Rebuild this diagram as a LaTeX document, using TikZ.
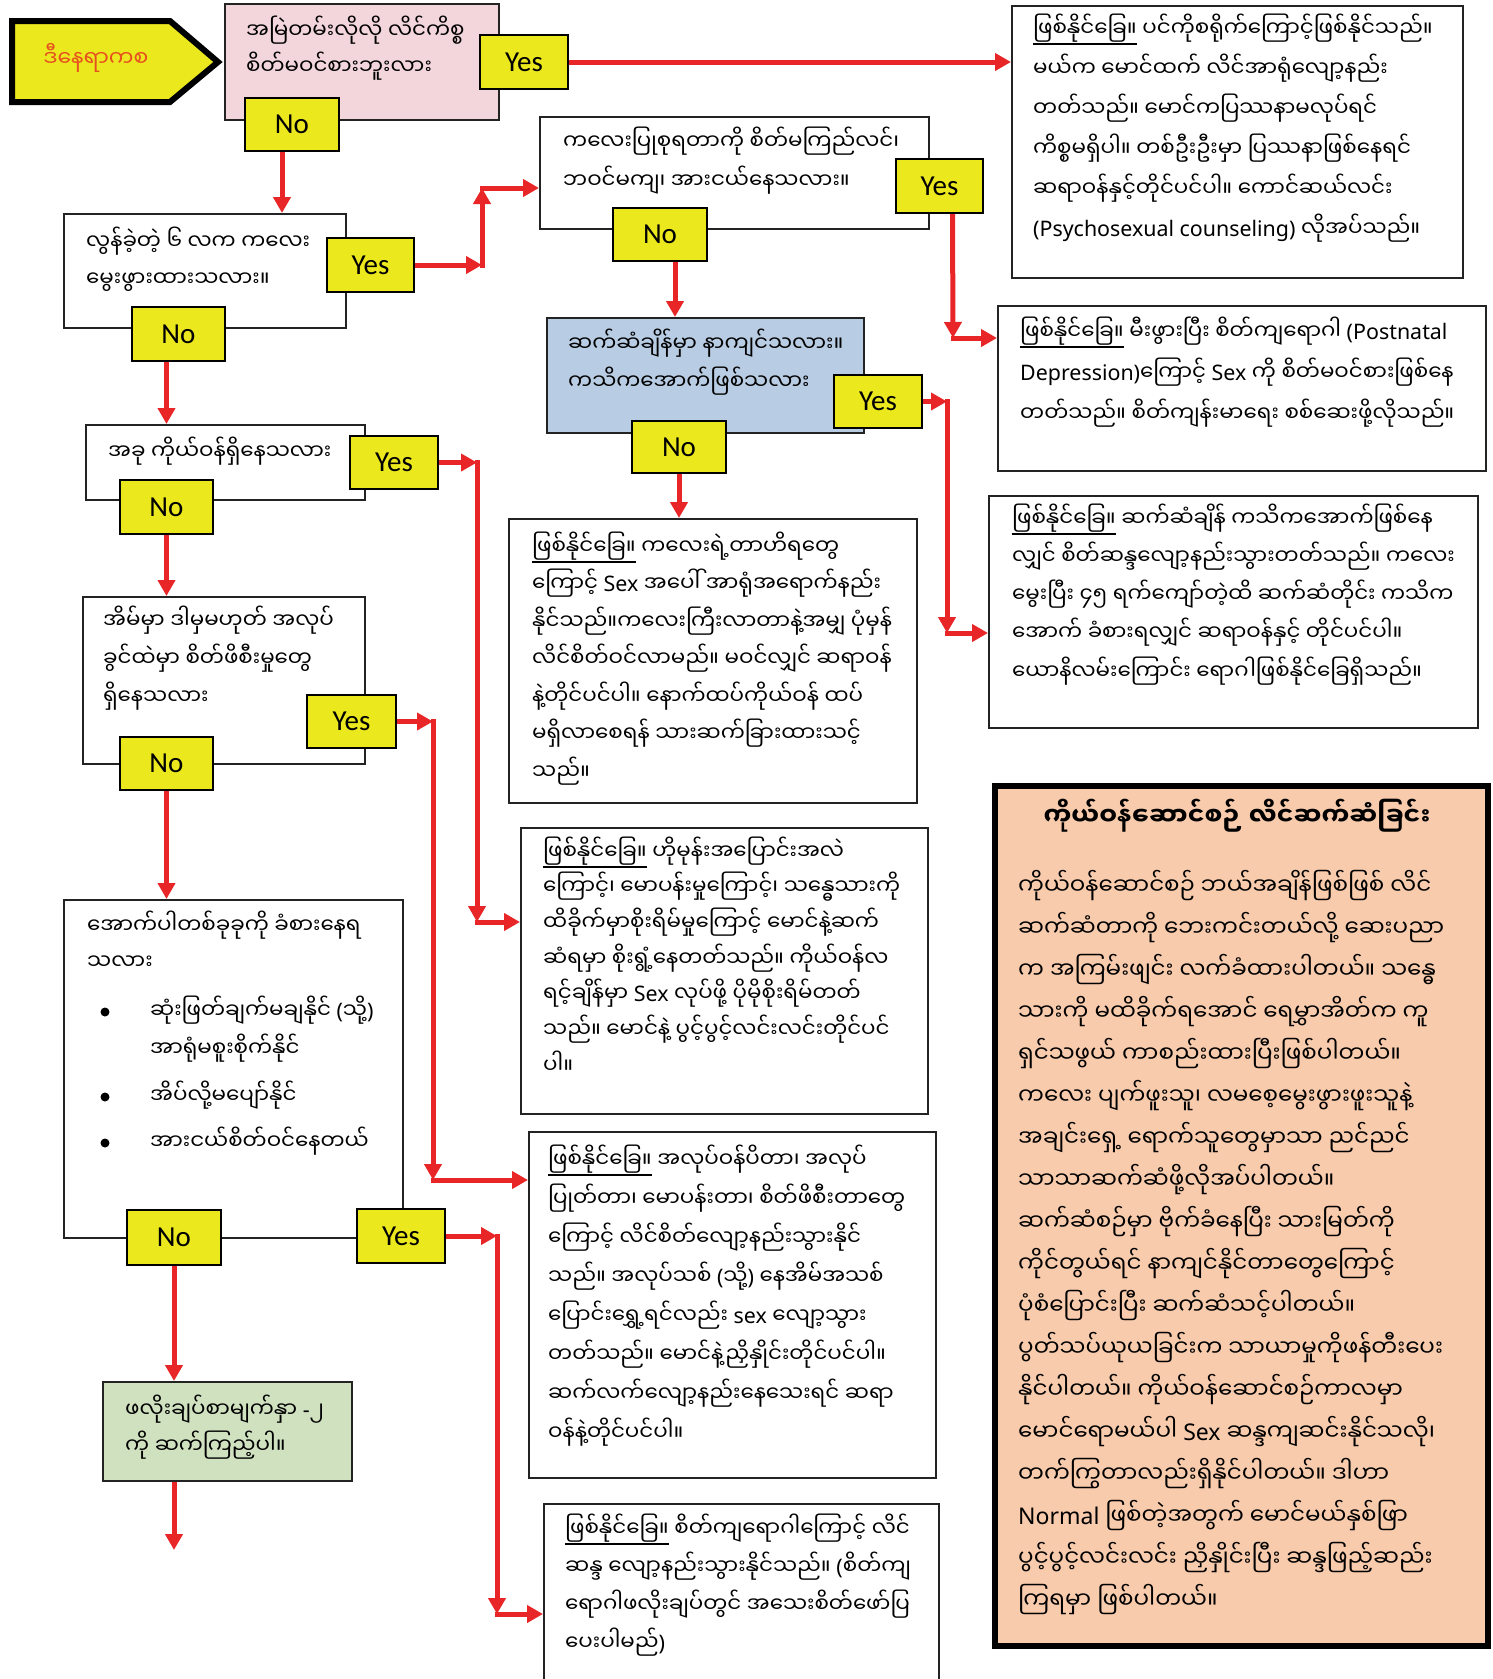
\documentclass[tikz,border=0pt]{standalone}
\usepackage{fontspec}
\usetikzlibrary{arrows.meta}
\setmainfont{Noto Sans}
\newfontfamily\myfont[Script=Myanmar]{Noto Sans Myanmar UI}
\newfontfamily\latf{Noto Sans}
\newfontfamily\ynfont{Carlito}
\newcommand\lt[1]{{\latf #1}}
\newcommand\ulx[1]{\vtop{\hbox{#1}\kern1.5pt\hrule height 1.6pt}}
\newcommand\ml[2]{\vtop{\baselineskip=#1\lineskiplimit=-200pt\lineskip=0pt\let\\\cr\halign{##\hfil\cr#2\cr}}}
\pgfdeclarelayer{bg}\pgfsetlayers{bg,main}
\definecolor{yel}{RGB}{236,232,30}
\definecolor{pinkc}{RGB}{242,214,219}
\definecolor{bluec}{RGB}{184,204,228}
\definecolor{greenc}{RGB}{208,225,192}
\definecolor{peach}{RGB}{248,203,172}
\definecolor{arr}{RGB}{232,38,40}
\definecolor{startc}{RGB}{230,80,30}
\definecolor{edge}{RGB}{35,35,35}
\begin{document}
\begin{tikzpicture}[x=1pt,y=-1pt,
  box/.style={draw=edge, line width=2pt, anchor=north west, inner sep=0pt},
  yn/.style={draw=black, line width=2pt, fill=yel, inner sep=0pt, font=\ynfont\fontsize{29pt}{30pt}\selectfont},
  tx/.style={anchor=base west, inner sep=0pt, font=\myfont\fontsize{21.4pt}{24pt}\selectfont},
  px/.style={anchor=base west, inner sep=0pt, font=\myfont\fontsize{23pt}{26pt}\selectfont},
  rarrow/.style={draw=arr, line width=5pt, line cap=rect, -{Triangle[length=16pt,width=17pt]}},
  dot/.style={circle, fill=black, inner sep=0pt, minimum size=9pt}]
\useasboundingbox (0,0) rectangle (1492,1679);
\begin{pgfonlayer}{bg}
\fill[white] (0,0) rectangle (1492,1679);
\end{pgfonlayer}

% start shape
\draw[line width=6pt, fill=yel, line join=miter] (12,21) -- (170,21) -- (218,62) -- (170,102) -- (12,102) -- cycle;
\node[inner sep=0pt, text=startc, font=\myfont\fontsize{22pt}{24pt}\selectfont] (startt) at (96,58) {ဒီနေရာကစ};

% main boxes
\node[box, fill=pinkc, minimum width=274pt, minimum height=116pt] (pink) at (224,3) {};
\node[box, minimum width=282pt, minimum height=114pt] (box2) at (63,213) {};
\node[box, minimum width=389pt, minimum height=112pt] (box3) at (539,116) {};
\node[box, fill=bluec, minimum width=317pt, minimum height=115pt] (blue) at (546,317) {};
\node[box, minimum width=451pt, minimum height=272pt] (tr) at (1011,5) {};
\node[box, minimum width=488pt, minimum height=165pt] (pn) at (997,305) {};
\node[box, minimum width=489pt, minimum height=232pt] (d45) at (988,495) {};
\node[box, minimum width=279pt, minimum height=75pt] (box4) at (85,424) {};
\node[box, minimum width=282pt, minimum height=167pt] (box6) at (82,596) {};
\node[box, minimum width=408pt, minimum height=284pt] (child) at (508,518) {};
\node[box, minimum width=407pt, minimum height=286pt] (horm) at (520,827) {};
\node[box, minimum width=339pt, minimum height=338pt] (bul) at (63,899) {};
\node[box, fill=greenc, minimum width=249pt, minimum height=99pt] (green) at (102,1381) {};
\node[box, minimum width=407pt, minimum height=346pt] (work) at (528,1131) {};
\node[box, minimum width=395pt, minimum height=200pt] (last) at (543,1503) {};
\node[box, draw=black, line width=6pt, fill=peach, minimum width=493pt, minimum height=860pt] (peachb) at (992,783) {};

% texts
\node[tx] (tpink) at (246,38) {\ml{36pt}{အမြဲတမ်းလိုလို လိင်ကိစ္စ\\စိတ်မဝင်စားဘူးလား}};
\node[tx] (tbox2) at (86,249) {\ml{37pt}{လွန်ခဲ့တဲ့ ၆ လက ကလေး\\မွေးဖွားထားသလား။}};
\node[tx] (tbox3) at (563,149) {\ml{39pt}{ကလေးပြုစုရတာကို  စိတ်မကြည်လင်၊\\ဘဝင်မကျ၊ အားငယ်နေသလား။}};
\node[tx] (tblue) at (568,351) {\ml{38pt}{ဆက်ဆံချိန်မှာ နာကျင်သလား။\\ကသိကအောက်ဖြစ်သလား}};
\node[tx] (ttr) at (1033,36) {\ml{40pt}{\ulx{ဖြစ်နိုင်ခြေ။} ပင်ကိုစရိုက်ကြောင့်ဖြစ်နိုင်သည်။\\
မယ်က မောင်ထက် လိင်အာရုံလျော့နည်း\\
တတ်သည်။ မောင်ကပြဿနာမလုပ်ရင်\\
ကိစ္စမရှိပါ။ တစ်ဦးဦးမှာ ပြဿနာဖြစ်နေရင်\\
ဆရာဝန်နှင့်တိုင်ပင်ပါ။ ကောင်ဆယ်လင်း\\
\lt{(Psychosexual counseling)} လိုအပ်သည်။}};
\node[tx] (tpn) at (1020,339) {\ml{41pt}{\ulx{ဖြစ်နိုင်ခြေ။} မီးဖွားပြီး စိတ်ကျရောဂါ \lt{(Postnatal}\\
\lt{Depression)}ကြောင့် \lt{Sex} ကို စိတ်မဝင်စားဖြစ်နေ\\
တတ်သည်။ စိတ်ကျန်းမာရေး စစ်ဆေးဖို့လိုသည်။}};
\node[tx] (td45) at (1012,526) {\ml{38.3pt}{\ulx{ဖြစ်နိုင်ခြေ။} ဆက်ဆံချိန် ကသိကအောက်ဖြစ်နေ\\
လျှင် စိတ်ဆန္ဒလျော့နည်းသွားတတ်သည်။ ကလေး\\
မွေးပြီး ၄၅ ရက်ကျော်တဲ့ထိ ဆက်ဆံတိုင်း ကသိက\\
အောက် ခံစားရလျှင် ဆရာဝန်နှင့် တိုင်ပင်ပါ။\\
ယောနိလမ်းကြောင်း ရောဂါဖြစ်နိုင်ခြေရှိသည်။}};
\node[tx] (tbox4) at (108,459) {အခု ကိုယ်ဝန်ရှိနေသလား};
\node[tx] (tbox6) at (103,628) {\ml{38pt}{အိမ်မှာ ဒါမှမဟုတ် အလုပ်\\ခွင်ထဲမှာ စိတ်ဖိစီးမှုတွေ\\ရှိနေသလား}};
\node[tx] (tchild) at (532,554) {\ml{37.5pt}{\ulx{ဖြစ်နိုင်ခြေ။} ကလေးရဲ့တာဟိရတွေ\\
ကြောင့် \lt{Sex} အပေါ် အာရုံအရောက်နည်း\\
နိုင်သည်။ကလေးကြီးလာတာနဲ့အမျှ ပုံမှန်\\
လိင်စိတ်ဝင်လာမည်။ မဝင်လျှင် ဆရာဝန်\\
နဲ့တိုင်ပင်ပါ။  နောက်ထပ်ကိုယ်ဝန် ထပ်\\
မရှိလာစေရန် သားဆက်ခြားထားသင့်\\
သည်။}};
\node[tx] (thorm) at (543,859) {\ml{35.7pt}{\ulx{ဖြစ်နိုင်ခြေ။} ဟိုမုန်းအပြောင်းအလဲ\\
ကြောင့်၊ မောပန်းမှုကြောင့်၊ သန္ဓေသားကို\\
ထိခိုက်မှာစိုးရိမ်မှုကြောင့် မောင်နဲ့ဆက်\\
ဆံရမှာ စိုးရွံ့နေတတ်သည်။ ကိုယ်ဝန်လ\\
ရင့်ချိန်မှာ \lt{Sex} လုပ်ဖို့ ပိုမိုစိုးရိမ်တတ်\\
သည်။ မောင်နဲ့ ပွင့်ပွင့်လင်းလင်းတိုင်ပင်\\
ပါ။}};
\node[tx] (tbul) at (87,933) {\ml{36pt}{အောက်ပါတစ်ခုခုကို ခံစားနေရ\\သလား}};
\node[dot] (d1) at (105,1012) {};
\node[dot] (d2) at (105,1097) {};
\node[dot] (d3) at (105,1143) {};
\node[tx] (tb1) at (150,1018) {\ml{38pt}{ဆုံးဖြတ်ချက်မချနိုင် \lt{(}သို့\lt{)}\\အာရုံမစူးစိုက်နိုင်}};
\node[tx] (tb2) at (150,1103) {အိပ်လို့မပျော်နိုင်};
\node[tx] (tb3) at (150,1149) {အားငယ်စိတ်ဝင်နေတယ်};
\node[tx] (tgreen) at (125,1417) {\ml{36pt}{ဖလိုးချပ်စာမျက်နှာ \lt{-}၂\\ကို   ဆက်ကြည့်ပါ။}};
\node[tx] (twork) at (548,1167) {\ml{39pt}{\ulx{ဖြစ်နိုင်ခြေ။} အလုပ်ဝန်ပိတာ၊ အလုပ်\\
ပြုတ်တာ၊ မောပန်းတာ၊ စိတ်ဖိစီးတာတွေ\\
ကြောင့် လိင်စိတ်လျော့နည်းသွားနိုင်\\
သည်။ အလုပ်သစ် \lt{(}သို့\lt{)} နေအိမ်အသစ်\\
ပြောင်းရွှေ့ရင်လည်း \lt{sex} လျော့သွား\\
တတ်သည်။ မောင်နဲ့ညှိနှိုင်းတိုင်ပင်ပါ။\\
ဆက်လက်လျော့နည်းနေသေးရင် ဆရာ\\
ဝန်နဲ့တိုင်ပင်ပါ။}};
\node[tx] (tlast) at (565,1536) {\ml{38pt}{\ulx{ဖြစ်နိုင်ခြေ။} စိတ်ကျရောဂါကြောင့် လိင်\\
ဆန္ဒ လျော့နည်းသွားနိုင်သည်။ \lt{(}စိတ်ကျ\\
ရောဂါဖလိုးချပ်တွင် အသေးစိတ်ဖော်ပြ\\
ပေးပါမည်\lt{)}}};
\node[tx, anchor=base, font=\myfont\bfseries\fontsize{25pt}{28pt}\selectfont] (ttitle) at (1237,825) {ကိုယ်ဝန်ဆောင်စဉ် လိင်ဆက်ဆံခြင်း};
\node[px] (tpeach) at (1018,894) {\ml{42pt}{ကိုယ်ဝန်ဆောင်စဉ် ဘယ်အချိန်ဖြစ်ဖြစ်  လိင်\\
ဆက်ဆံတာကို ဘေးကင်းတယ်လို့ ဆေးပညာ\\
က အကြမ်းဖျင်း လက်ခံထားပါတယ်။ သန္ဓေ\\
သားကို မထိခိုက်ရအောင် ရေမွှာအိတ်က ကူ\\
ရှင်သဖွယ် ကာစည်းထားပြီးဖြစ်ပါတယ်။\\
ကလေး ပျက်ဖူးသူ၊ လမစေ့မွေးဖွားဖူးသူနဲ့\\
အချင်းရှေ့ ရောက်သူတွေမှာသာ ညင်ညင်\\
သာသာဆက်ဆံဖို့လိုအပ်ပါတယ်။\\
ဆက်ဆံစဉ်မှာ ဗိုက်ခံနေပြီး သားမြတ်ကို\\
ကိုင်တွယ်ရင် နာကျင်နိုင်တာတွေကြောင့်\\
ပုံစံပြောင်းပြီး ဆက်ဆံသင့်ပါတယ်။\\
ပွတ်သပ်ယုယခြင်းက သာယာမှုကိုဖန်တီးပေး\\
နိုင်ပါတယ်။ ကိုယ်ဝန်ဆောင်စဉ်ကာလမှာ\\
မောင်ရောမယ်ပါ \lt{Sex} ဆန္ဒကျဆင်းနိုင်သလို၊\\
တက်ကြွတာလည်းရှိနိုင်ပါတယ်။ ဒါဟာ\\
\lt{Normal} ဖြစ်တဲ့အတွက် မောင်မယ်နှစ်ဖြာ\\
ပွင့်ပွင့်လင်းလင်း ညှိနှိုင်းပြီး ဆန္ဒဖြည့်ဆည်း\\
ကြရမှာ ဖြစ်ပါတယ်။}};

% yes / no boxes
\node[yn, minimum width=88pt, minimum height=54pt] (yes1) at (524,62) {Yes};
\node[yn, minimum width=94pt, minimum height=53pt] (no1) at (292,124.5) {No};
\node[yn, minimum width=87pt, minimum height=54pt] (yes2) at (370.5,265) {Yes};
\node[yn, minimum width=93pt, minimum height=54pt] (no2) at (178.5,334) {No};
\node[yn, minimum width=87pt, minimum height=54pt] (yes3) at (939.5,186) {Yes};
\node[yn, minimum width=94pt, minimum height=53pt] (no3) at (660,234.5) {No};
\node[yn, minimum width=88pt, minimum height=53pt] (yes4) at (878,401.5) {Yes};
\node[yn, minimum width=94pt, minimum height=52pt] (no4) at (679,447) {No};
\node[yn, minimum width=88pt, minimum height=53pt] (yes5) at (394,462.5) {Yes};
\node[yn, minimum width=93pt, minimum height=54pt] (no5) at (166.5,507) {No};
\node[yn, minimum width=89pt, minimum height=53pt] (yes6) at (351.5,721.5) {Yes};
\node[yn, minimum width=93pt, minimum height=53pt] (no6) at (166.5,763.5) {No};
\node[yn, minimum width=88pt, minimum height=54pt] (yes7) at (401,1236) {Yes};
\node[yn, minimum width=94pt, minimum height=55pt] (no7) at (174,1237.5) {No};

% connector helper coordinates
\coordinate (a1s) at ([xshift=-10pt]no1.south);
\coordinate (a4s) at ([xshift=-12pt]no2.south);
\coordinate (a5s) at ([xshift=15pt]no3.south);
\coordinate (a6s) at ([xshift=13pt]yes3.south);
\coordinate (c3a) at (482,265);
\coordinate (c3b) at (482,188);
\coordinate (c6) at (953,338);
\coordinate (c7a) at (947,401.5);
\coordinate (c7b) at (947,633);
\coordinate (c10a) at (477,462.5);
\coordinate (c10b) at (477,922);
\coordinate (c12a) at (433,721.5);
\coordinate (c12b) at (433,1180);
\coordinate (c15a) at (497,1236);
\coordinate (c15b) at (497,1614);
\coordinate (endc) at (174,1550);

\begin{pgfonlayer}{bg}
\draw[rarrow] (a1s) -- (a1s |- box2.north);
\draw[rarrow] (yes1.east) -- (yes1.east -| tr.west);
\draw[rarrow] (yes2.east) -- (c3a);
\draw[rarrow] (c3a) -- (c3b);
\draw[rarrow] (c3b) -- (c3b -| box3.west);
\draw[rarrow] (a4s) -- (a4s |- box4.north);
\draw[rarrow] (a5s) -- (a5s |- blue.north);
\draw[rarrow] (a6s) -- (c6);
\draw[rarrow] (c6) -- (c6 -| pn.west);
\draw[rarrow] (yes4.east) -- (c7a);
\draw[rarrow] (c7a) -- (c7b);
\draw[rarrow] (c7b) -- (c7b -| d45.west);
\draw[rarrow] (no4.south) -- (no4.south |- child.north);
\draw[rarrow] (no5.south) -- (no5.south |- box6.north);
\draw[rarrow] (yes5.east) -- (c10a);
\draw[rarrow] (c10a) -- (c10b);
\draw[rarrow] (c10b) -- (c10b -| horm.west);
\draw[rarrow] (no6.south) -- (no6.south |- bul.north);
\draw[rarrow] (yes6.east) -- (c12a);
\draw[rarrow] (c12a) -- (c12b);
\draw[rarrow] (c12b) -- (c12b -| work.west);
\draw[rarrow] (no7.south) -- (no7.south |- green.north);
\draw[rarrow] (green.south -| endc) -- (endc);
\draw[rarrow] (yes7.east) -- (c15a);
\draw[rarrow] (c15a) -- (c15b);
\draw[rarrow] (c15b) -- (c15b -| last.west);
\end{pgfonlayer}
\end{tikzpicture}
\end{document}
